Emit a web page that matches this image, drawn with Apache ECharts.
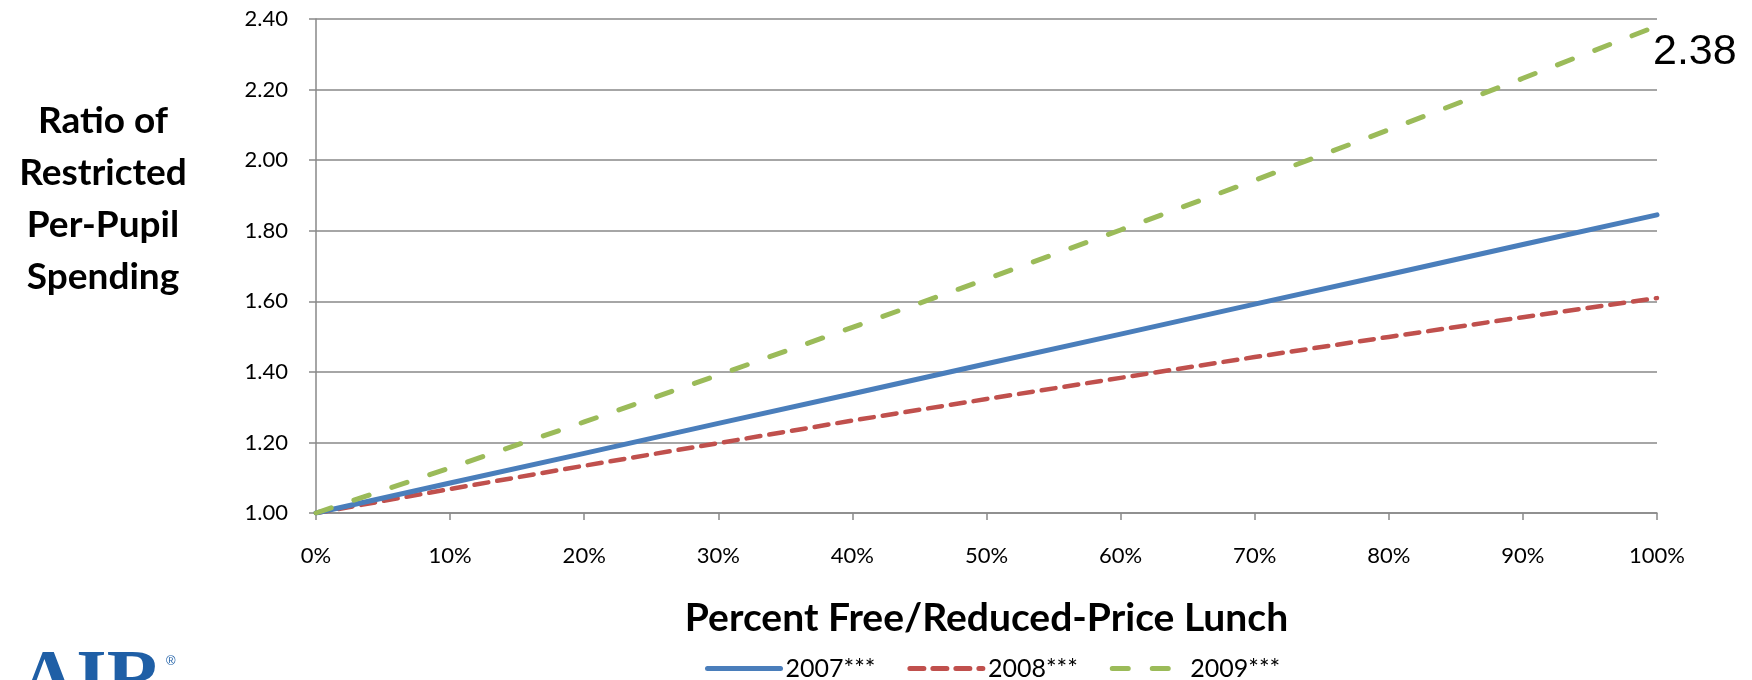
<!DOCTYPE html>
<html>
<head>
<meta charset="utf-8">
<title>Ratio of Restricted Per-Pupil Spending</title>
<script src="https://cdn.jsdelivr.net/npm/echarts@6/dist/echarts.min.js"></script>
<style>
  html, body { margin: 0; padding: 0; background: #fff; }
  #chart { width: 1752px; height: 680px; }
</style>
</head>
<body>
<div id="chart"></div>
<script>
// Share of students eligible for free/reduced-price lunch
const categories = ['0%', '10%', '20%', '30%', '40%', '50%', '60%', '70%', '80%', '90%', '100%'];

// Ratio of restricted per-pupil spending, by year
const ratio2007 = [1.000, 1.085, 1.169, 1.254, 1.338, 1.423, 1.507, 1.592, 1.676, 1.761, 1.845];
const ratio2008 = [1.000, 1.068, 1.134, 1.198, 1.262, 1.323, 1.383, 1.442, 1.499, 1.555, 1.609];
const ratio2009 = [1.000, 1.128, 1.258, 1.391, 1.526, 1.663, 1.802, 1.943, 2.086, 2.232, 2.380];

const seriesNames = ['2007***', '2008***', '2009***'];
const yTicks = { min: 1.0, max: 2.4, step: 0.2 };

const FONT = 'Lato, "Open Sans", sans-serif';
const GRID_GRAY = '#898989';

const chart = echarts.init(document.getElementById('chart'), null, { renderer: 'canvas' });

chart.setOption({
  animation: false,
  backgroundColor: '#ffffff',
  title: {
    text: 'Ratio of\nRestricted\nPer-Pupil\nSpending',
    left: 103,
    top: 95,
    padding: 0,
    textAlign: 'center',
    textStyle: {
      fontFamily: FONT,
      fontWeight: 'bold',
      fontSize: 37,
      lineHeight: 52,
      color: '#000'
    }
  },
  grid: { left: 316, right: 95, top: 19, bottom: 167, containLabel: false },
  legend: {
    data: seriesNames,
    left: 700,
    top: 651,
    itemWidth: 73,
    itemHeight: 16,
    itemGap: 32,
    itemStyle: { opacity: 0 },
    lineStyle: { width: 5 },
    textStyle: { fontFamily: FONT, fontSize: 25, color: '#000' }
  },
  xAxis: {
    type: 'category',
    data: categories,
    boundaryGap: false,
    name: 'Percent Free/Reduced-Price Lunch',
    nameLocation: 'middle',
    nameGap: 86,
    nameTextStyle: {
      fontFamily: FONT,
      fontWeight: 'bold',
      fontSize: 39,
      lineHeight: 39,
      color: '#000'
    },
    axisLine: { lineStyle: { color: GRID_GRAY, width: 1.5 } },
    axisTick: { show: true, length: 7, alignWithLabel: true, lineStyle: { color: GRID_GRAY, width: 1.5 } },
    axisLabel: { interval: 0, margin: 32, fontFamily: FONT, fontSize: 22, color: '#000' },
    splitLine: { show: false }
  },
  yAxis: {
    type: 'value',
    min: yTicks.min,
    max: yTicks.max,
    interval: yTicks.step,
    axisLine: { show: true, lineStyle: { color: GRID_GRAY, width: 1.5 } },
    axisTick: { show: true, length: 7, lineStyle: { color: GRID_GRAY, width: 1.5 } },
    axisLabel: {
      margin: 28,
      fontFamily: FONT,
      fontSize: 22,
      color: '#000',
      formatter: v => v.toFixed(2)
    },
    splitLine: { show: true, lineStyle: { color: GRID_GRAY, width: 1.5 } }
  },
  series: [
    {
      name: seriesNames[0],
      type: 'line',
      data: ratio2007,
      symbol: 'none',
      color: '#4a7ebb',
      lineStyle: { color: '#4a7ebb', width: 5, cap: 'round', join: 'round' },
      z: 3
    },
    {
      name: seriesNames[1],
      type: 'line',
      data: ratio2008,
      symbol: 'none',
      color: '#c0504d',
      lineStyle: { color: '#c0504d', width: 4.5, type: [14, 9], cap: 'round', join: 'round' },
      z: 2
    },
    {
      name: seriesNames[2],
      type: 'line',
      data: ratio2009,
      symbol: 'none',
      color: '#9bbb59',
      lineStyle: { color: '#9bbb59', width: 5, type: [16, 24], cap: 'round', join: 'round' },
      endLabel: {
        show: true,
        distance: 0,
        offset: [-4, 26],
        fontFamily: '"Liberation Sans", Arial, sans-serif',
        fontSize: 43,
        color: '#000',
        formatter: p => Number(p.value).toFixed(2)
      },
      z: 4
    }
  ],
  graphic: [
    {
      type: 'text',
      left: 20,
      top: 644,
      style: {
        text: 'AIR',
        fontFamily: '"Liberation Serif", "DejaVu Serif", serif',
        fontWeight: 'bold',
        fontSize: 78,
        fill: '#1f5fa6'
      }
    },
    {
      type: 'text',
      left: 166,
      top: 655,
      style: {
        text: '®',
        fontFamily: '"Liberation Sans", Arial, sans-serif',
        fontSize: 13,
        fill: '#1f5fa6'
      }
    }
  ]
});
</script>
</body>
</html>
